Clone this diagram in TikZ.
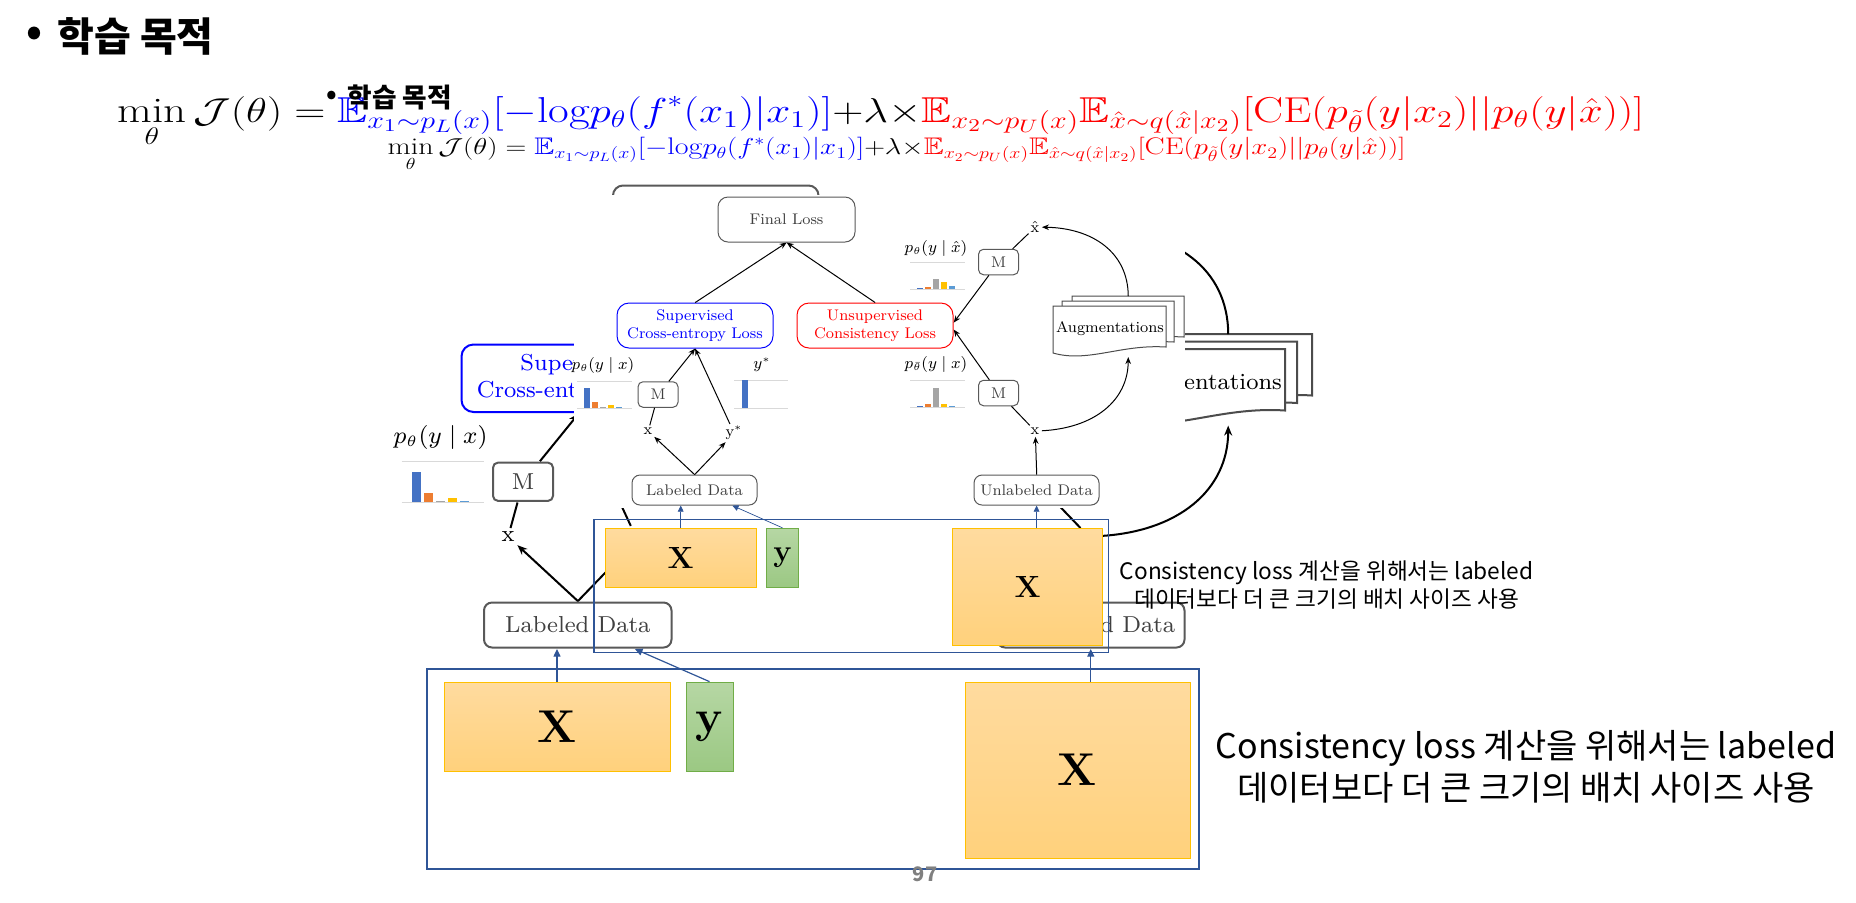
\documentclass[tikz,border=0pt]{standalone}
\usepackage{amssymb}
\usepackage{graphicx}
\usepackage{fontspec}
\newfontfamily\kr{Noto Sans CJK KR}
\usetikzlibrary{arrows.meta,calc,positioning}

\definecolor{eqblue}{RGB}{0,0,255}
\definecolor{eqred}{RGB}{255,0,0}
\definecolor{barblue}{HTML}{4472C4}
\definecolor{barorange}{HTML}{ED7D31}
\definecolor{bargray}{HTML}{A5A5A5}
\definecolor{baryellow}{HTML}{FFC000}
\definecolor{barltblue}{HTML}{5B9BD5}
\colorlet{bar1}{barblue}
\colorlet{bar2}{barorange}
\colorlet{bar3}{bargray}
\colorlet{bar4}{baryellow}
\colorlet{bar5}{barltblue}
\definecolor{boxblue}{HTML}{2F5597}
\definecolor{xtop}{HTML}{FFDB9F}
\definecolor{xbot}{HTML}{FFD17C}
\definecolor{xline}{HTML}{FFC000}
\definecolor{ytop}{HTML}{B6D7A4}
\definecolor{ybot}{HTML}{9BC883}
\definecolor{yline}{HTML}{70AD47}

\newcommand\figfont{\fontsize{7.7}{9}\selectfont}
\newcommand\figlw{1pt}
\newcommand\boxlw{1pt}

\tikzset{
    figline/.style={line width=\figlw, draw=black},
    figarrow/.style={figline, -{Stealth[length=2pt 3, width=1.6pt 2.4]}},
    rnode/.style={draw=black!65, line width=\figlw, inner sep=0pt, font=\figfont, text=black!75, align=center},
    lossnode/.style={rnode, minimum width=68.5pt, minimum height=22.5pt, rounded corners=5pt},
    datanode/.style={rnode, minimum width=62.5pt, minimum height=15pt, rounded corners=4pt},
    mnode/.style={rnode, minimum width=20pt, minimum height=12.75pt, rounded corners=2.5pt},
    figlabel/.style={inner sep=1pt, font=\figfont},
    chartline/.style={draw=black!15, line width=0.4pt},
    sheet/.style={draw=black!70, fill=white, line width=\figlw},
    batchbox/.style={draw=boxblue, line width=\boxlw},
    batcharrow/.style={draw=boxblue, line width=0.6*\boxlw, -{Triangle[length=2pt 3, width=2pt 2.5]}},
    xbox/.style={draw=xline, top color=xtop, bottom color=xbot, inner sep=0pt, font=\fontsize{23}{24}\selectfont\bfseries},
    ybox/.style={draw=yline, top color=ytop, bottom color=ybot, inner sep=0pt, font=\fontsize{23}{24}\selectfont\bfseries},
    titlenode/.style={anchor=west, inner sep=0pt, font=\kr\bfseries\fontsize{20}{22}\selectfont},
    eqnode/.style={anchor=base west, inner sep=0pt, font=\fontsize{18}{22}\selectfont},
    notenode/.style={align=center, inner sep=0pt, font=\kr\fontsize{17}{21}\selectfont},
}

% one probability chart: left x, base y, bar heights
\newcommand\probchart[3]{%
    \draw[chartline] (#1,{#2-27}) -- ++(55,0);
    \draw[chartline] (#1,#2) -- ++(55,0);
    \foreach \h [count=\i] in {#3}
        \fill[bar\i] ({#1+7+8*(\i-1)},#2) rectangle ++(6,-\h);
}

% one augmentation sheet: left, top, right, bottom
\newcommand\docsheet[4]{%
    \filldraw[sheet] (#1,#2) -- (#3,#2) -- (#3,#4)
        .. controls ({#3-45},{#4-3}) and ({#1+35},{#4+16}) .. (#1,{#4+6}) -- cycle;
}

% the pasted figure, in the coordinates of its small copy
\newcommand\drawfigure{%
    \fill[white] (574,195) rectangle (1185,508);
    \node[lossnode] (final) at (786.5,219.5) {Final Loss};
    \node[lossnode, draw=blue, text=blue, minimum width=78pt, rounded corners=6pt] (sup) at (695,325.5) {Supervised\\Cross-entropy Loss};
    \node[lossnode, draw=red, text=red, minimum width=78pt, rounded corners=6pt] (unsup) at (875,325.5) {Unsupervised\\Consistency Loss};
    \node[datanode] (lab) at (694.5,490) {Labeled Data};
    \node[datanode] (unlab) at (1036.5,490) {Unlabeled Data};
    \node[mnode] (mL) at (658,394.5) {M};
    \node[mnode] (mU) at (998.5,262) {M};
    \node[mnode] (mD) at (998.5,393) {M};
    \node[figlabel] (xL) at (648,431) {x};
    \node[figlabel] (yL) at (734,433) {y$^*$};
    \node[figlabel] (xhat) at (1035,227) {$\hat{\mathrm{x}}$};
    \node[figlabel] (xR) at (1035,431) {x};
    \node[figlabel] (pL) at (603,365) {$p_\theta(y\mid x)$};
    \node[figlabel] (ys) at (762,365) {$y^*$};
    \node[figlabel] (pU) at (936,248) {$p_\theta(y\mid\hat{x})$};
    \node[figlabel] (pD) at (936,364) {$p_{\bar\theta}(y\mid x)$};
    % charts
    \probchart{577}{408}{20,6,1,3,1}
    \probchart{910}{289}{1,2,10,7,3}
    \probchart{910}{407}{1,3,19,3,1}
    \draw[chartline] (734,380) -- (788,380);
    \draw[chartline] (734,408) -- (788,408);
    \fill[barblue] (742,408) rectangle (748,380);
    % augmentations
    \docsheet{1072}{296}{1184}{337}
    \docsheet{1062}{301}{1174}{342}
    \docsheet{1053}{306}{1166}{347}
    \node[figlabel] (aug) at (1110,329) {Augmentations};
    \coordinate (augtop) at (1128,296);
    \coordinate (augbot) at (1128,357);
    % connectors
    \draw[figarrow] (sup.north) -- (final.south);
    \draw[figarrow] (unsup.north) -- (final.south);
    \draw[figline] (xL) -- (mL);
    \draw[figarrow] (mL) -- (sup.south);
    \draw[figarrow] (yL) -- (sup.south);
    \draw[figarrow] (lab.north) -- (xL);
    \draw[figarrow] (lab.north) -- (yL);
    \draw[figline] (xhat) -- (mU);
    \draw[figarrow] (mU) -- ([yshift=1.5pt]unsup.east);
    \draw[figline] (xR) -- (mD);
    \draw[figarrow] (mD) -- ([yshift=-2pt]unsup.east);
    \draw[figarrow] (unlab.north) -- (xR);
    \draw[figarrow] (augtop) .. controls (1128,252) and (1092,228) .. (xhat);
    \draw[figarrow] (xR) .. controls (1095,428) and (1128,400) .. (augbot);
}

% the slide itself
\newcommand\drawslide{%
    \node[titlenode] (bullet) at (26,36) {•};
    \node[titlenode] (title) at (57,36) {학습 목적};
    \node[eqnode] (eq) at (117,122) {\scalebox{1.25}[1]{$\displaystyle\min_{\theta}\mathcal{J}(\theta)={\color{eqblue}\mathbb{E}_{x_1\sim p_L(x)}[-\mathrm{log}p_\theta(f^*(x_1)|x_1)]}{+}\lambda{\times}{\color{eqred}\mathbb{E}_{x_2\sim p_U(x)}\mathbb{E}_{\hat{x}\sim q(\hat{x}|x_2)}[\mathrm{CE}(p_{\tilde{\theta}}(y|x_2)||p_{\theta}(y|\hat{x}))]}$}};
    \begin{scope}[shift={(-464,-110)}, scale=1.5, transform shape]
        \drawfigure
    \end{scope}
    \draw[batchbox] (427,669) rectangle (1199,869);
    \node[xbox, minimum width=113pt, minimum height=44.5pt] (xl) at (557,726.5) {X};
    \node[ybox, minimum width=23.5pt, minimum height=44.5pt] (yb) at (709.5,726.5) {y};
    \node[xbox, minimum width=112.5pt, minimum height=88pt] (xr) at (1077.5,770) {X};
    \draw[batcharrow] (xl.north) -- (xl.north |- lab.south);
    \draw[batcharrow] (yb.north) -- ($(lab.south)!0.6!(lab.south east)$);
    \draw[batcharrow] (unlab.south |- xr.north) -- (unlab.south);
    \node[notenode] (note) at (1526,767) {Consistency loss 계산을 위해서는 labeled\\데이터보다 더 큰 크기의 배치 사이즈 사용};
}

\begin{document}
\begin{tikzpicture}[x=0.5pt, y=-0.5pt]
    \fill[white] (0,0) rectangle (1856,902);
    \path[use as bounding box] (0,0) rectangle (1856,902);
    \drawslide
    \node[font=\kr\bfseries\fontsize{10}{12}\selectfont, text=black!50] (pagenum) at (925,874) {97};
    % smaller copy pasted on top
    \def\figlw{0.5pt}
    \def\boxlw{0.6pt}
    \begin{scope}[shift={(309.33,73.33)}, scale=0.6667, transform shape]
        \drawslide
    \end{scope}
\end{tikzpicture}
\end{document}
